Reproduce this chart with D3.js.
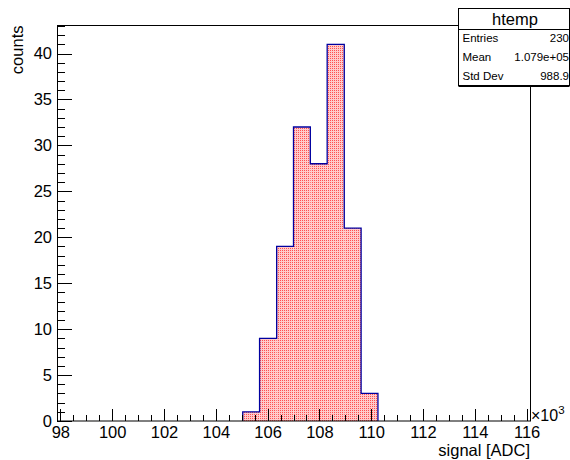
<!DOCTYPE html>
<html>
<head>
<meta charset="utf-8">
<script src="https://cdn.jsdelivr.net/npm/d3@7/dist/d3.min.js"></script>
<style>
  body { margin: 0; background: #fff; }
  svg { display: block; font-family: "Liberation Sans", Arial, sans-serif; }
</style>
</head>
<body>
<div id="chart"></div>
<script>
// histogram bins (x in units of 10^3 ADC)
const binEdges = [105.04, 105.69, 106.35, 107.0, 107.65, 108.3, 108.96, 109.61, 110.26];
const binCounts = [1, 9, 19, 32, 28, 41, 21, 3];
const xMajorTicks = [98, 100, 102, 104, 106, 108, 110, 112, 114, 116];
const yMajorTicks = [0, 5, 10, 15, 20, 25, 30, 35, 40];
const statsNames = ["Entries", "Mean", "Std Dev"];
const statsValues = ["230", "1.079e+05", "988.9"];

const width = 570, height = 460;
const frame = {left: 57, right: 530, top: 25.5, bottom: 421};

const svg = d3.select("#chart").append("svg")
    .attr("width", width)
    .attr("height", height);

// ROOT-like dotted fill
const defs = svg.append("defs");
const pat = defs.append("pattern")
    .attr("id", "dots")
    .attr("patternUnits", "userSpaceOnUse")
    .attr("width", 2).attr("height", 2);
pat.append("rect").attr("width", 2).attr("height", 2).attr("fill", "#ffcaca");
pat.append("rect").attr("width", 1).attr("height", 1).attr("fill", "#ff5050")
    .attr("shape-rendering", "crispEdges");

const x = d3.scaleLinear().domain([97.87, 116.13]).range([frame.left, frame.right]);
const y = d3.scaleLinear().domain([0, 43.05]).range([frame.bottom, frame.top]);

// bars
const bins = binCounts.map((c, i) => ({x0: binEdges[i], x1: binEdges[i + 1], n: c}));
svg.append("g").selectAll("rect")
    .data(bins)
    .enter()
    .append("rect")
    .attr("x", d => x(d.x0))
    .attr("y", d => y(d.n))
    .attr("width", d => x(d.x1) - x(d.x0))
    .attr("height", d => y(0) - y(d.n))
    .attr("fill", "url(#dots)");

// step outline
let pts = [[binEdges[0], 0]];
bins.forEach(d => { pts.push([d.x0, d.n]); pts.push([d.x1, d.n]); });
pts.push([binEdges[binEdges.length - 1], 0]);
svg.append("path")
    .attr("d", d3.line().x(d => x(d[0])).y(d => y(d[1]))(pts))
    .attr("fill", "none")
    .attr("stroke", "#0000a0")
    .attr("stroke-width", 1.3);

// frame
svg.append("rect")
    .attr("x", frame.left + 0.5).attr("y", frame.top)
    .attr("width", frame.right - frame.left).attr("height", frame.bottom - frame.top)
    .attr("fill", "none").attr("stroke", "#000").attr("stroke-width", 1);

// x axis
const xMinor = d3.range(98, 116.01, 0.5).filter(v => !xMajorTicks.includes(v));
svg.append("g")
    .attr("transform", `translate(0,${frame.bottom})`)
    .call(d3.axisBottom(x).tickValues(xMinor).tickSize(-6).tickFormat(""))
    .call(g => g.select(".domain").remove());
svg.append("g")
    .attr("transform", `translate(0,${frame.bottom})`)
    .call(d3.axisBottom(x).tickValues(xMajorTicks).tickSize(-12).tickPadding(5).tickFormat(d3.format("d")))
    .call(g => g.select(".domain").remove())
    .call(g => g.selectAll("text").attr("font-size", 16.5).attr("fill", "#000")
        .attr("font-family", "Liberation Sans, Arial, sans-serif"));

// y axis
const yMinor = d3.range(0, 43.01, 1).filter(v => v % 5 !== 0);
svg.append("g")
    .attr("transform", `translate(${frame.left},0)`)
    .call(d3.axisLeft(y).tickValues(yMinor).tickSize(-7.5).tickFormat(""))
    .call(g => g.select(".domain").remove());
svg.append("g")
    .attr("transform", `translate(${frame.left},0)`)
    .call(d3.axisLeft(y).tickValues(yMajorTicks).tickSize(-15).tickPadding(5).tickFormat(d3.format("d")))
    .call(g => g.select(".domain").remove())
    .call(g => g.selectAll("text").attr("font-size", 16.5).attr("fill", "#000")
        .attr("font-family", "Liberation Sans, Arial, sans-serif"));

svg.selectAll(".tick line").attr("stroke", "#000").attr("shape-rendering", "crispEdges");

// exponent label
const ex = svg.append("text").attr("x", 531).attr("y", 421).attr("font-size", 16);
ex.append("tspan").text("\u00d710");
ex.append("tspan").attr("dy", -7).attr("font-size", 11.5).text("3");

// axis titles
svg.append("text")
    .attr("x", frame.right).attr("y", 456)
    .attr("text-anchor", "end").attr("font-size", 16.5)
    .text("signal [ADC]");
svg.append("text")
    .attr("transform", `translate(23,${frame.top}) rotate(-90)`)
    .attr("text-anchor", "end").attr("font-size", 16.5)
    .text("counts");

// stats box
const box = {x: 458.5, y: 8.5, w: 111, h: 77, titleH: 21};
const sb = svg.append("g");
sb.append("rect")
    .attr("x", box.x).attr("y", box.y).attr("width", box.w).attr("height", box.h)
    .attr("fill", "#fff").attr("stroke", "#000").attr("stroke-width", 1);
sb.append("line")
    .attr("x1", box.x).attr("x2", box.x + box.w)
    .attr("y1", box.y + box.h + 1).attr("y2", box.y + box.h + 1)
    .attr("stroke", "#000").attr("stroke-width", 1);
sb.append("line")
    .attr("x1", box.x).attr("x2", box.x + box.w)
    .attr("y1", box.y + box.titleH).attr("y2", box.y + box.titleH)
    .attr("stroke", "#000").attr("stroke-width", 1);
sb.append("text")
    .attr("x", box.x + box.w / 2 + 1).attr("y", box.y + 16)
    .attr("text-anchor", "middle").attr("font-size", 16.5)
    .text("htemp");
const rowY = d3.scalePoint().domain(statsNames).range([42, 80]);
statsNames.forEach((name, i) => {
    sb.append("text").attr("x", box.x + 4).attr("y", rowY(name))
        .attr("font-size", 11.5).text(name);
    sb.append("text").attr("x", 569).attr("y", rowY(name))
        .attr("text-anchor", "end").attr("font-size", 11.5).text(statsValues[i]);
});
</script>
</body>
</html>
